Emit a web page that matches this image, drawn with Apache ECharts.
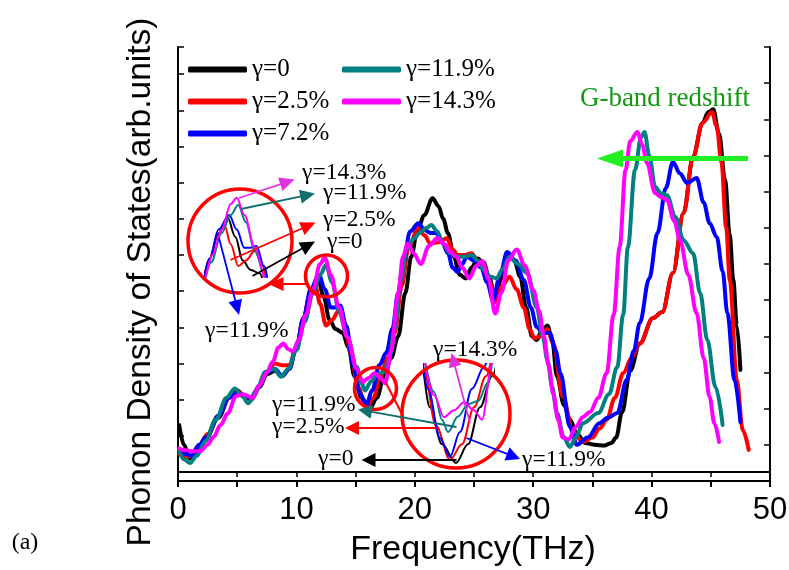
<!DOCTYPE html>
<html><head><meta charset="utf-8">
<script src="https://cdn.jsdelivr.net/npm/echarts@6/dist/echarts.min.js"></script>
<style>html,body{margin:0;padding:0;background:#fff}#c{width:789px;height:570px}</style>
</head><body><div id="c"></div>
<script>
// ---------- data ----------
const seriesNames = ['γ=0', 'γ=2.5%', 'γ=7.2%', 'γ=11.9%', 'γ=14.3%'];
const xTickLabels = ['0', '10', '20', '30', '40', '50'];

const freq0 = [0.1,0.5,1.0,1.6,2.4,3.4,4.4,5.0,5.6,6.2,6.9,7.5,8.2,8.8,9.4,10.0,10.6,11.2,11.8,12.3,12.8,13.3,13.9,14.4,14.9,15.5,16.2,16.8,17.4,18.0,18.6,19.2,19.7,20.2,20.8,21.5,22.0,22.4,22.8,23.3,23.8,24.3,24.8,25.3,25.8,26.3,26.8,27.3,27.9,28.4,28.9,29.4,29.9,30.3,30.8,31.2,31.6,32.0,32.6,33.1,33.7,34.4,35.2,36.0,36.6,37.0,37.5,38.2,39.0,40.1,40.9,41.8,42.7,43.5,44.3,44.8,45.2,45.7,46.2,46.6,46.9,47.2,47.5];
const dos0  = [1.55,1.0,0.62,0.8,1.2,1.75,2.35,2.5,2.35,2.25,2.6,2.95,3.05,2.9,3.1,3.7,4.5,5.2,5.62,5.1,4.45,4.2,4.1,3.7,2.9,2.3,2.0,2.3,2.9,3.4,4.0,5.2,6.2,6.9,7.35,7.82,7.6,7.25,6.85,6.2,5.7,5.6,5.9,6.15,6.05,5.6,5.05,5.6,6.3,6.1,5.65,4.8,4.0,3.9,4.2,4.3,3.9,2.9,2.1,1.7,1.3,1.05,1.0,0.98,1.05,1.2,1.9,3.05,3.8,4.5,4.67,5.75,7.41,8.96,9.9,10.2,10.28,9.6,8.32,6.8,5.56,4.3,3.07];

const freq1 = [0.1,0.6,1.1,1.8,2.5,3.4,4.3,5.0,5.6,6.2,6.9,7.5,8.2,8.8,9.4,10.0,10.6,11.1,11.6,12.0,12.5,13.0,13.6,14.1,14.6,15.2,15.9,16.5,17.1,17.7,18.3,18.9,19.5,20.3,20.8,21.3,22.0,22.7,23.2,23.6,24.2,24.8,25.3,25.8,26.3,26.8,27.4,28.0,28.6,29.2,29.7,30.1,30.6,31.2,31.7,32.5,33.4,34.2,35.0,35.6,36.2,36.9,37.6,38.3,39.0,40.1,40.9,41.8,42.7,43.5,44.3,45.1,45.5,45.9,46.3,46.6,47.2,47.7,48.2];
const dos1  = [0.75,0.65,0.7,1.0,1.3,1.8,2.3,2.5,2.35,2.3,2.65,3.0,3.25,3.2,3.2,3.7,4.5,5.1,5.4,4.9,4.3,4.45,4.72,4.3,3.5,2.6,2.05,2.3,2.9,3.4,4.1,5.4,6.5,7.0,6.8,6.57,6.6,6.71,6.4,6.25,6.25,6.3,6.1,6.0,5.5,4.95,5.4,5.65,5.3,4.8,4.2,3.95,4.0,4.2,3.8,2.33,1.32,1.08,1.2,1.45,1.69,2.3,2.98,3.4,3.8,4.5,4.67,5.75,7.41,8.96,9.9,10.2,9.8,8.8,7.0,5.56,2.79,1.41,0.86];

const freq2 = [0.1,0.6,1.1,1.8,2.4,3.4,4.3,5.0,5.6,6.2,6.9,7.5,8.2,8.8,9.4,10.0,10.6,11.2,11.9,12.4,12.9,13.3,13.7,14.2,14.8,15.4,15.9,16.4,17.0,17.6,18.1,18.6,19.0,19.6,20.3,20.8,21.3,21.8,22.3,22.8,23.2,23.6,24.0,24.4,25.0,25.6,26.1,26.6,27.2,27.8,28.5,29.2,29.8,30.3,30.8,31.4,31.9,32.3,33.1,33.7,34.6,35.6,36.3,37.1,37.9,38.5,39.0,39.8,40.5,41.2,41.8,42.4,43.0,43.8,44.4,44.9,45.5,46.0,46.4,47.0,47.5];
const dos2  = [0.85,0.75,0.7,1.0,1.22,1.8,2.3,2.45,2.35,2.3,2.65,3.0,3.1,2.9,3.1,3.7,4.5,5.3,5.7,5.3,4.8,4.8,4.85,4.3,3.2,2.4,2.1,2.5,3.2,3.55,4.2,5.2,6.0,6.9,7.13,6.95,6.86,6.86,6.6,6.3,5.9,5.78,6.0,6.2,6.1,5.9,5.5,5.0,5.7,6.33,6.1,5.56,4.8,4.26,4.1,4.09,3.6,2.98,1.5,1.0,1.2,1.6,1.75,1.88,2.8,3.6,4.37,5.6,6.86,8.1,8.82,8.5,8.24,8.38,7.7,7.13,6.75,5.8,4.64,2.8,1.63];

const freq3 = [0.1,0.5,1.0,1.6,2.3,3.2,4.1,4.8,5.4,5.95,6.6,7.4,8.1,8.7,9.3,10.0,10.7,11.4,12.0,12.5,13.0,13.6,14.3,15.1,15.5,15.8,16.3,16.8,17.3,17.8,18.3,18.8,19.3,19.9,20.4,21.0,21.4,21.9,22.4,23.0,23.6,24.2,24.8,25.3,25.8,26.4,26.9,27.4,28.0,28.7,29.5,30.3,30.8,31.2,31.6,32.0,32.6,33.1,33.6,34.2,35.5,36.4,37.1,37.6,38.0,38.6,39.1,39.4,39.8,40.3,40.8,41.3,42.0,42.7,43.5,44.1,44.7,45.4,46.0];
const dos3  = [0.85,0.6,0.5,0.7,1.1,1.7,2.3,2.56,2.35,2.15,2.5,3.02,3.1,2.88,3.1,3.62,4.4,5.2,5.7,5.97,5.5,4.7,3.98,3.15,2.7,2.5,2.75,2.95,3.0,3.3,4.2,5.5,6.4,6.7,6.86,7.0,7.08,6.9,6.55,6.3,6.2,6.2,6.25,6.1,5.84,5.65,5.6,5.85,6.2,6.0,5.75,4.8,4.0,3.34,2.6,1.88,1.2,0.94,1.2,1.6,1.88,2.4,3.15,4.6,6.47,8.6,9.5,9.65,9.0,8.13,7.95,7.9,7.3,6.66,6.3,5.2,3.9,2.6,1.55];

const freq4 = [0.1,0.5,1.2,1.9,2.5,3.0,3.6,4.2,4.9,5.5,6.3,6.9,7.5,8.0,8.5,8.9,9.3,9.7,10.2,10.8,11.4,12.0,12.4,12.9,13.6,14.3,15.1,15.6,16.1,16.6,17.1,17.5,18.0,18.6,19.0,19.4,19.9,20.5,21.2,21.9,22.5,23.0,23.5,24.0,24.6,25.2,25.7,26.2,26.8,27.3,27.9,28.6,29.3,30.0,30.5,30.9,31.3,31.7,32.1,32.5,33.0,33.6,34.2,34.8,35.5,36.2,36.8,37.3,37.8,38.2,38.8,39.2,39.6,40.3,40.8,41.3,41.9,42.4,43.1,43.8,44.4,44.9,45.3,45.7];
const dos4  = [0.9,0.86,0.82,0.83,1.0,1.22,1.55,1.87,2.35,2.4,2.3,2.65,3.0,3.3,3.7,3.8,3.65,3.58,3.9,4.6,5.3,6.0,6.17,5.7,4.8,3.98,3.1,2.74,2.85,2.98,2.85,2.7,3.6,5.2,6.2,6.57,6.3,6.0,6.5,6.72,6.55,6.33,6.2,5.9,5.6,5.95,6.08,5.6,4.63,5.2,6.1,6.4,5.95,5.28,4.7,4.0,3.2,2.4,1.7,1.2,1.15,1.5,1.77,1.91,2.3,2.98,4.6,6.47,8.6,9.4,9.65,9.3,8.8,7.96,7.85,7.77,7.2,6.66,5.7,4.64,3.4,2.32,1.6,1.08];

// ---------- styling / layout ----------
const colors = ['#000000', '#ff0000', '#0000ff', '#008080', '#ff00ff'];
const freqs = [freq0, freq1, freq2, freq3, freq4];
const doses = [dos0, dos1, dos2, dos3, dos4];
function pairs(i) { return freqs[i].map((f, k) => [f, doses[i][k]]); }

const chart = echarts.init(document.getElementById('c'), null, { renderer: 'canvas' });

const series = [];
// main curves (grid 0), magnified inset 1 (grid 1), magnified inset 2 (grid 2)
[[0, 0, 4], [2, 3, 2], [3, 4, 2]].forEach(([xi, yi, w]) => {
  for (let i = 0; i < 5; i++) {
    series.push({
      name: seriesNames[i], type: 'line', xAxisIndex: xi, yAxisIndex: yi,
      data: pairs(i), smooth: 0.35, smoothMonotone: 'x', symbol: 'none', showSymbol: false,
      clip: true, silent: true,
      lineStyle: { color: colors[i], width: w, cap: 'round', join: 'round' },
      itemStyle: { color: colors[i] }
    });
  }
});

const serif = '"Liberation Serif", "Times New Roman", serif';
const sans = '"Liberation Sans", Arial, sans-serif';

function arrow(x1, y1, x2, y2, color, w, hl, hw) {
  const a = Math.atan2(y2 - y1, x2 - x1);
  const bx = x2 - hl * Math.cos(a), by = y2 - hl * Math.sin(a);
  const px = -Math.sin(a) * hw, py = Math.cos(a) * hw;
  return [
    { type: 'line', z: 100, shape: { x1: x1, y1: y1, x2: bx + hl * 0.3 * Math.cos(a), y2: by + hl * 0.3 * Math.sin(a) }, style: { stroke: color, lineWidth: w } },
    { type: 'polygon', z: 101, shape: { points: [[x2, y2], [bx + px, by + py], [bx - px, by - py]] }, style: { fill: color } }
  ];
}
function circ(cx, cy, r) {
  return { type: 'circle', z: 100, shape: { cx: cx, cy: cy, r: r }, style: { fill: 'none', stroke: '#ff0000', lineWidth: 3.5 } };
}
function label(x, y, t) {
  return { type: 'text', z: 102, x: x, y: y, style: { text: t, font: '23.5px ' + serif, fill: '#000', textAlign: 'left', textVerticalAlign: 'middle', verticalAlign: 'middle' } };
}
const MAG = '#e033e0', TEAL = '#0f6e6e';

const graphics = [
  circ(240, 241, 52), circ(326.5, 276, 21), circ(375.5, 388.5, 21), circ(456, 414, 54),
  ...arrow(306, 284, 268.5, 284, '#ff0000', 2, 15, 7),
  { type: 'line', z: 100, shape: { x1: 386, y1: 383, x2: 403.5, y2: 417 }, style: { stroke: '#ff0000', lineWidth: 2 } },
  // inset 1 arrows
  ...arrow(239, 198, 294.5, 179.5, MAG, 1.8, 15, 7),
  ...arrow(241, 209, 315, 193.5, TEAL, 1.8, 15, 7),
  ...arrow(230.5, 260, 315.5, 222.5, '#ff0000', 1.8, 15, 7),
  ...arrow(252.5, 276, 315, 241.5, '#000000', 1.8, 15, 7),
  ...arrow(219, 238, 239, 315, '#0000ff', 1.8, 15, 7),
  // inset 2 arrows
  ...arrow(470, 423, 451.5, 353, MAG, 1.8, 14, 6.5),
  ...arrow(456.5, 427, 358, 409.5, TEAL, 1.8, 14, 7),
  ...arrow(436.5, 428, 345, 428, '#ff0000', 1.8, 14, 7),
  ...arrow(456.5, 460, 361.5, 460, '#000000', 1.8, 14, 7),
  ...arrow(466.5, 438, 520, 459, '#0000ff', 1.8, 14, 7),
  // green arrow
  ...arrow(748, 158.5, 597, 158.5, '#22ee22', 5, 26, 9),
  { type: 'text', z: 102, x: 665, y: 99, style: { text: 'G-band redshift', font: '27px ' + serif, fill: '#119911', textAlign: 'center', textVerticalAlign: 'middle', verticalAlign: 'middle' } },
  label(302, 173, 'γ=14.3%'), label(323, 193, 'γ=11.9%'), label(323, 220, 'γ=2.5%'), label(327, 242, 'γ=0'), label(205, 331, 'γ=11.9%'),
  label(433, 350, 'γ=14.3%'), label(272, 405, 'γ=11.9%'), label(272, 427, 'γ=2.5%'), label(318, 459, 'γ=0'), label(522, 460, 'γ=11.9%'),
  // axis titles
  { type: 'text', z: 102, x: 473, y: 550, style: { text: 'Frequency(THz)', font: '34px ' + sans, fill: '#000', textAlign: 'center', textVerticalAlign: 'middle', verticalAlign: 'middle' } },
  { type: 'text', z: 102, x: 141, y: 282, rotation: Math.PI / 2, style: { text: 'Phonon Density of States(arb.units)', font: '33.5px ' + sans, fill: '#000', textAlign: 'center', textVerticalAlign: 'middle', verticalAlign: 'middle' } },
  { type: 'text', z: 102, x: 25, y: 543, style: { text: '(a)', font: '24px ' + serif, fill: '#000', textAlign: 'center', textVerticalAlign: 'middle', verticalAlign: 'middle' } }
];

const legendBase = {
  orient: 'vertical', top: 57, itemWidth: 59, itemHeight: 6, itemGap: 7, icon: 'roundRect',
  padding: 0, selectedMode: false, itemStyle: { borderWidth: 0 },
  textStyle: { fontFamily: serif, fontSize: 25, color: '#000' }
};

const axisLineStyle = { show: true, lineStyle: { color: '#000', width: 2 } };

chart.setOption({
  animation: false,
  backgroundColor: '#fff',
  grid: [
    { left: 178, top: 47, width: 592, height: 434, outerBoundsMode: 'none', containLabel: false },
    { left: 205, top: 193, width: 62, height: 84, outerBoundsMode: 'none', containLabel: false },
    { left: 424, top: 364, width: 70, height: 102, outerBoundsMode: 'none', containLabel: false }
  ],
  legend: [
    Object.assign({}, legendBase, { left: 188, data: seriesNames.slice(0, 3) }),
    Object.assign({}, legendBase, { left: 342, data: seriesNames.slice(3) })
  ],
  xAxis: [
    { gridIndex: 0, type: 'value', min: 0, max: 50, interval: 5, position: 'bottom',
      axisLine: axisLineStyle, splitLine: { show: false },
      axisTick: { show: true, inside: false, length: 6, lineStyle: { color: '#000', width: 2 } },
      axisLabel: { show: true, showMinLabel: true, showMaxLabel: true, margin: 14, fontFamily: sans, fontSize: 31, color: '#000',
        formatter: v => (v % 10 === 0 ? xTickLabels[v / 10] : '') } },
    { gridIndex: 0, type: 'value', min: 0, max: 50, interval: 5, position: 'top',
      axisLine: axisLineStyle, splitLine: { show: false },
      axisTick: { show: true, inside: true, length: 5, lineStyle: { color: '#000', width: 1.5 } },
      axisLabel: { show: false } },
    { gridIndex: 1, type: 'value', min: 10.3, max: 14.4, show: false },
    { gridIndex: 2, type: 'value', min: 14.6, max: 18.1, show: false }
  ],
  yAxis: [
    { gridIndex: 0, type: 'value', min: 0, max: 12, position: 'left',
      axisLine: axisLineStyle, axisTick: { show: false }, axisLabel: { show: false }, splitLine: { show: false } },
    { gridIndex: 0, type: 'value', min: -0.25, max: 11.75, splitNumber: 12, position: 'left',
      axisLine: { show: false }, axisTick: { show: true, inside: true, length: 6, lineStyle: { color: '#000', width: 1.5 } },
      axisLabel: { show: false }, splitLine: { show: false } },
    { gridIndex: 0, type: 'value', min: 0, max: 12, interval: 1, position: 'right',
      axisLine: axisLineStyle, axisTick: { show: true, inside: true, length: 6, lineStyle: { color: '#000', width: 1.5 } },
      axisLabel: { show: false }, splitLine: { show: false } },
    { gridIndex: 1, type: 'value', min: 4.0, max: 6.3, show: false },
    { gridIndex: 2, type: 'value', min: 1.95, max: 3.6, show: false }
  ],
  series: series,
  graphic: { elements: graphics }
});
</script>
</body></html>
